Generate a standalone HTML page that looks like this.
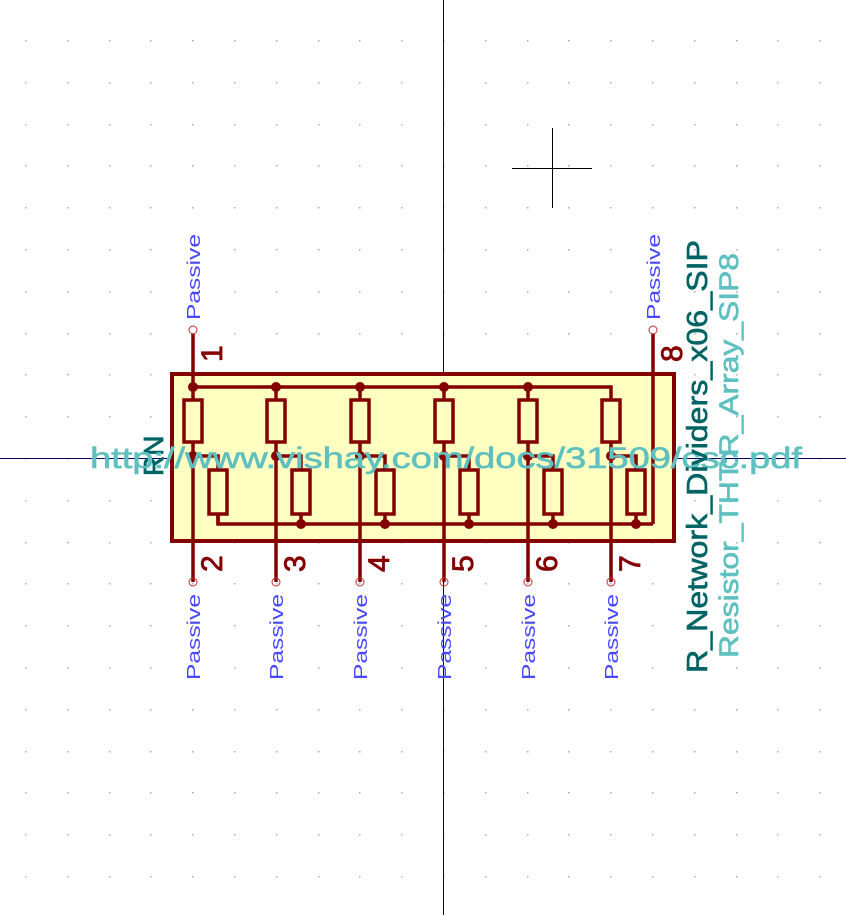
<!DOCTYPE html>
<html><head><meta charset="utf-8"><style>
html,body{margin:0;padding:0;background:#fff}
svg{display:block}
text{font-family:"Liberation Sans",sans-serif}
</style></head><body>
<svg id="s" width="846" height="915" viewBox="0 0 846 915" xmlns="http://www.w3.org/2000/svg">
<g id="grid"></g>
<line x1="443.5" y1="0" x2="443.5" y2="915" stroke="#000060" stroke-width="1"/>
<line x1="0" y1="458.5" x2="846" y2="458.5" stroke="#000060" stroke-width="1"/>
<g stroke="#000" stroke-width="1">
<line x1="552.5" y1="128" x2="552.5" y2="208"/><line x1="512" y1="168.5" x2="592" y2="168.5"/></g>
<rect x="172" y="374" width="502" height="167" fill="#ffffc2" stroke="#840000" stroke-width="4"/>
<g id="wires" stroke="#840000" stroke-width="3.5" fill="none"></g>
<g id="pins"></g>
<text transform="translate(163,476) rotate(-90)" font-size="28" fill="#006464" stroke="#006464" stroke-width="0.8">RN</text>
<text x="90" y="468" font-size="30" fill="#5fc0c0" stroke="#5fc0c0" stroke-width="0.6" textLength="712" lengthAdjust="spacingAndGlyphs">http://www.vishay.com/docs/31509/csc.pdf</text>
<text transform="translate(707,673) rotate(-90)" font-size="29" fill="#006464" stroke="#006464" stroke-width="0.6" textLength="433" lengthAdjust="spacingAndGlyphs">R_Network_Dividers_x06_SIP</text>
<text transform="translate(738,658) rotate(-90)" font-size="27" fill="#5fc0c0" stroke="#5fc0c0" stroke-width="0.6" textLength="405" lengthAdjust="spacingAndGlyphs">Resistor_THT:R_Array_SIP8</text>
</svg>
<script>
const NS="http://www.w3.org/2000/svg";
function mk(p,tag,a){const e=document.createElementNS(NS,tag);for(const k in a)e.setAttribute(k,a[k]);p.appendChild(e);return e;}
const grid=document.getElementById('grid');
for(let x=25;x<846;x+=41.8)for(let y=40;y<915;y+=41.8){mk(grid,'rect',{x:Math.round(x),y:Math.round(y),width:1.5,height:1.5,fill:'#aaa'});}
const cols=[193,276,360,444,528,611];
const w=document.getElementById('wires');
const red='#840000';
mk(w,'polyline',{points:`193,387 611,387 611,400`});
mk(w,'polyline',{points:`218,514 218,524 653,524`});
cols.forEach((x,i)=>{
  mk(w,'rect',{x:x-9,y:400,width:18,height:42});
  mk(w,'line',{x1:x,y1:442,x2:x,y2:582});
  if(i<5) mk(w,'line',{x1:x,y1:387,x2:x,y2:400});
  mk(w,'polyline',{points:`${x},456 ${x+25},456 ${x+25},470`});
  mk(w,'rect',{x:x+16,y:470,width:18,height:44});
  mk(w,'line',{x1:x+25,y1:514,x2:x+25,y2:524});
  if(i<5){mk(w,'circle',{cx:x,cy:387,r:5,fill:red,stroke:'none'});}
  mk(w,'circle',{cx:x,cy:456,r:5,fill:red,stroke:'none'});
  if(i>0) mk(w,'circle',{cx:x+25,cy:524,r:5,fill:red,stroke:'none'});
});
mk(w,'line',{x1:193,y1:334,x2:193,y2:387});
mk(w,'line',{x1:653,y1:334,x2:653,y2:524});
const pg=document.getElementById('pins');
const pins=[[1,193,330,true],[8,653,330,true],[2,193,582,false],[3,276,582,false],[4,360,582,false],[5,444,582,false],[6,528,582,false],[7,611,582,false]];
pins.forEach(p=>{
  const [n,x,y,top]=p;
  const c=mk(pg,'circle',{cx:x,cy:y,r:4,fill:'none',stroke:'#c03030','stroke-width':1});
  
  
  const ty= top? 362:572;
  const t=mk(pg,'text',{transform:`translate(${x+29},${ty}) rotate(-90)`,'font-size':30,fill:red,stroke:red,'stroke-width':0.8});
  t.textContent=n;
  
  
  const py= top? 320:680;
  const l=mk(pg,'text',{transform:`translate(${x+7},${py}) rotate(-90)`,'font-size':18,fill:'#4848ff',textLength:86,lengthAdjust:'spacingAndGlyphs'});
  l.textContent='Passive';
  
  
});
</script>
</body></html>
